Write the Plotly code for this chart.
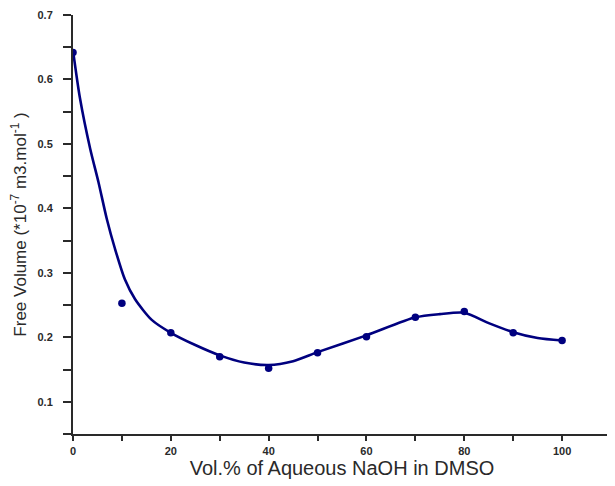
import plotly.graph_objects as go

# Measured data points
vol_pct = [0, 10, 20, 30, 40, 50, 60, 70, 80, 90, 100]
free_volume = [0.642, 0.253, 0.207, 0.170, 0.152, 0.176, 0.201, 0.231, 0.240, 0.207, 0.195]

# Smoothed curve
curve_x = [0, 1.4, 3.5, 5.2, 6.9, 8.6, 10.6, 12.7, 16.1, 20, 25, 30, 35, 40, 45, 50, 60, 70, 75, 80, 85, 90, 95, 100]
curve_y = [0.645, 0.572, 0.493, 0.441, 0.384, 0.337, 0.290, 0.259, 0.227, 0.207, 0.188, 0.172, 0.161, 0.157, 0.163, 0.177, 0.203, 0.231, 0.236, 0.238, 0.222, 0.208, 0.199, 0.195]

x_ticks = [0, 20, 40, 60, 80, 100]
y_ticks = [0.1, 0.2, 0.3, 0.4, 0.5, 0.6, 0.7]

navy = "#00007f"
ink = "#2a2a2a"

fig = go.Figure()
fig.add_trace(go.Scatter(x=curve_x, y=curve_y, mode="lines",
                         line=dict(color=navy, width=2.6, shape="spline", smoothing=0.7),
                         showlegend=False, hoverinfo="skip"))
fig.add_trace(go.Scatter(x=vol_pct, y=free_volume, mode="markers",
                         marker=dict(color=navy, size=7.5),
                         showlegend=False))

tickfont = dict(family="Liberation Sans, Arial", size=11, color=ink, weight="bold")

# page body has an 8px default margin, so the figure is sized to fit the window
fig.update_layout(
    width=607, height=478, autosize=False,
    margin=dict(l=65, r=4, t=7, b=52),
    paper_bgcolor="white", plot_bgcolor="white",
    font=dict(family="Liberation Sans, Arial", color=ink),
    xaxis=dict(
        range=[0, 110], tickvals=x_ticks, ticktext=[str(v) for v in x_ticks],
        showline=True, linecolor=ink, linewidth=2, showgrid=False, zeroline=False,
        ticks="outside", ticklen=5, tickwidth=1.5, tickcolor=ink,
        minor=dict(ticks="outside", dtick=10, tick0=0, ticklen=5, tickwidth=1.5, tickcolor=ink),
        tickfont=tickfont, ticklabelstandoff=1, automargin=False,
        title=dict(text="Vol.% of Aqueous NaOH in DMSO", font=dict(size=20, color=ink), standoff=2),
    ),
    yaxis=dict(
        range=[0.05, 0.7], tickvals=y_ticks, ticktext=["%.1f" % v for v in y_ticks],
        showline=True, linecolor=ink, linewidth=2, showgrid=False, zeroline=False,
        ticks="outside", ticklen=8, tickwidth=1.5, tickcolor=ink,
        minor=dict(ticks="outside", dtick=0.05, tick0=0.05, ticklen=8, tickwidth=1.5, tickcolor=ink),
        tickfont=tickfont, ticklabelstandoff=8, automargin=False,
        title=dict(text="Free Volume (*10<sup>-7</sup> m3.mol<sup>-1</sup> )", font=dict(size=17, color=ink), standoff=10),
    ),
)

fig.write_html("out.html")
